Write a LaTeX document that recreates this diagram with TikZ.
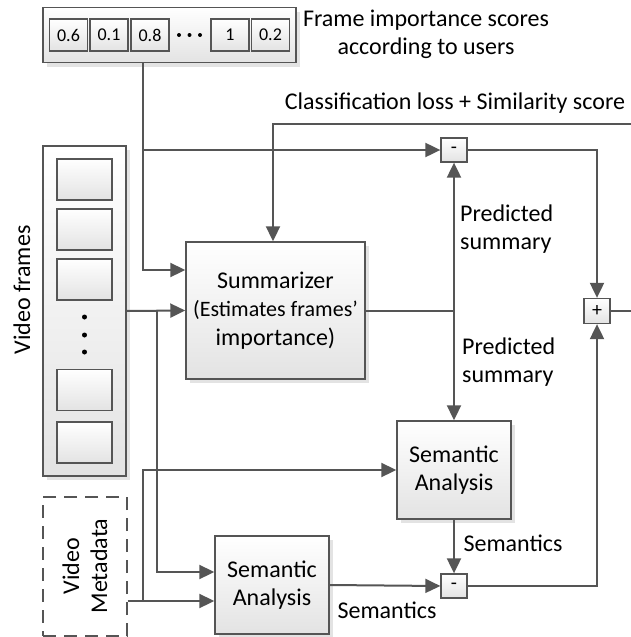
\documentclass[tikz,border=0pt]{standalone}
\usepackage{fontspec}
\setmainfont{Carlito}
\usetikzlibrary{arrows.meta,shadows}
\definecolor{edge}{HTML}{555555}
\begin{document}
\begin{tikzpicture}[x=1pt,y=-1pt,
  every node/.style={inner sep=0pt},
  blk/.style={draw=edge,line width=1.4pt,top color=white,bottom color=black!11,
    drop shadow={shadow xshift=4pt,shadow yshift=-4pt,fill=black!22},
    align=center,font=\fontsize{24}{28.5}\selectfont},
  cell/.style={draw=edge,line width=1.3pt,top color=white,bottom color=black!11,
    minimum width=38,minimum height=32,font=\fontsize{18}{20}\selectfont},
  frame/.style={cell,minimum width=55,minimum height=41},
  sign/.style={cell,minimum width=26,minimum height=24,font=\fontsize{20}{20}\selectfont},
  dashbox/.style={draw=edge,line width=1.3pt,dash pattern=on 13pt off 8pt},
  lbl/.style={font=\fontsize{24}{28}\selectfont},
  wire/.style={draw=edge,line width=2pt},
  arr/.style={wire,-{Triangle[length=15pt,width=14pt]}}]
\useasboundingbox (0,0) rectangle (631,637);
% scores given by users
\node [blk,minimum width=253,minimum height=55] (scores) at (169.5,35) {};
\node [cell] (s1) at (68.5,35) {0.6};
\node [cell] (s2) at (109,35) {0.1};
\node [cell] (s3) at (150,35) {0.8};
\fill [black] (179,35) circle (2) (189.5,35) circle (2) (200,35) circle (2);
\node [cell] (s4) at (230,35) {1};
\node [cell] (s5) at (270.5,35) {0.2};
\node [lbl,align=center] (scorelbl) at (426,34) {Frame importance scores\\according to users};
% video frames
\node [blk,minimum width=83,minimum height=330] (frames) at (84.5,311) {};
\node [frame] (f1) at (84.5,179.5) {};
\node [frame] (f2) at (84.5,229.5) {};
\node [frame] (f3) at (84.5,279.5) {};
\fill [black] (84.5,317) circle (2.5) (84.5,335) circle (2.5) (84.5,352) circle (2.5);
\node [frame] (f4) at (84.5,390) {};
\node [frame] (f5) at (84.5,442.5) {};
\node [lbl,rotate=90] (framelbl) at (22,290) {Video frames};
% metadata
\node [dashbox,minimum width=84,minimum height=139] (meta) at (85,566.5) {};
\node [lbl,rotate=90,align=center] (metalbl) at (85,566) {Video\\Metadata};
% blocks
\node [blk,minimum width=179,minimum height=137] (summ) at (275.5,310.5) {Summarizer\\{\fontsize{22}{28.5}\selectfont(Estimates frames’}\\importance)};
\node [blk,minimum width=114,minimum height=98] (sa1) at (454,470) {Semantic\\Analysis};
\node [blk,minimum width=114,minimum height=98] (sa2) at (272,585) {Semantic\\Analysis};
\node [sign] (m1) at (454,150) {-};
\node [sign] (m2) at (454,586) {-};
\node [sign,minimum height=25] (pl) at (597,311) {+};
\node [lbl] (clslbl) at (455,103) {Classification loss + Similarity score};
\node [lbl,align=left,anchor=west] (pred1) at (460,229) {Predicted\\summary};
\node [lbl,align=left,anchor=west] (pred2) at (462,362) {Predicted\\summary};
\node [lbl] (sem1) at (513,543) {Semantics};
\node [lbl] (sem2) at (387,610) {Semantics};
\coordinate (tap1) at (143,150);
\coordinate (tap2) at (157,311);
\coordinate (tap3) at (143,601);
\coordinate (fbin) at (631,124);
\coordinate (fbturn) at (273,124);
\coordinate (plout) at (631,311);
\coordinate (split) at (m1 |- summ.east);
% connectors
\draw [arr] (scores.south -| tap1) |- (summ.west |- 0,270);
\draw [arr] (tap1) -- (m1.west);
\draw [arr] (fbin) -- (fbturn) -- (fbturn |- summ.north);
\draw [arr] (frames.east) -- (summ.west);
\draw [arr] (tap2) |- (sa2.west |- 0,572);
\draw [arr] (meta.east |- tap3) -- (sa2.west |- tap3);
\draw [arr] (tap3) |- (sa1.west);
\draw [wire] (summ.east) -- (split);
\draw [arr] (split) -- (m1.south);
\draw [arr] (split) -- (sa1.north);
\draw [arr] (m1.east) -| (pl.north);
\draw [wire] (pl.east) -- (plout);
\draw [arr] (sa1.south) -- (m2.north);
\draw [arr] (sa2.east) -- (m2.west);
\draw [arr] (m2.east) -| (pl.south);
\end{tikzpicture}
\end{document}
